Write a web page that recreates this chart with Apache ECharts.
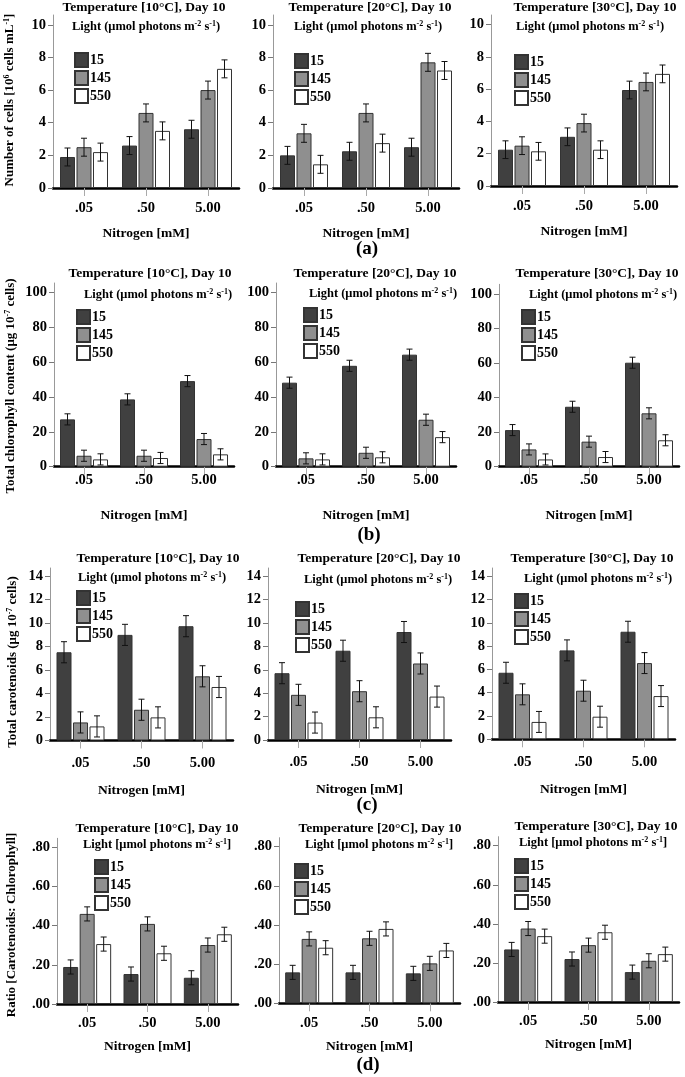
<!DOCTYPE html>
<html><head><meta charset="utf-8">
<script src="https://cdn.jsdelivr.net/npm/echarts@6/dist/echarts.min.js"></script>
<style>html,body{margin:0;padding:0;background:#fff}#c{width:685px;height:1077px}</style>
</head><body><div id="c"></div>
<script>
// ---------- DATA ----------
const nitrogen = ['.05', '.50', '5.00'];
const lightLevels = ['15', '145', '550'];
const temperatures = ['10', '20', '30'];

// each panel: [light 15, light 145, light 550] x nitrogen [.05, .50, 5.00]
const cells10 = [[1.9, 2.6, 3.6], [2.5, 4.6, 6.0], [2.2, 3.5, 7.3]];
const cells20 = [[2.0, 2.25, 2.5], [3.35, 4.6, 7.7], [1.45, 2.75, 7.2]];
const cells30 = [[2.25, 3.05, 5.95], [2.5, 3.9, 6.45], [2.15, 2.25, 6.95]];
const cellsErr = [[0.55, 0.55, 0.55], [0.55, 0.55, 0.55], [0.55, 0.55, 0.55]];

const chl10 = [[27.2, 38.7, 49.2], [6.3, 6.3, 15.9], [4.2, 5.0, 7.1]];
const chl20 = [[48.3, 58.0, 64.4], [4.8, 8.0, 27.0], [4.2, 5.4, 17.0]];
const chl30 = [[21.2, 34.7, 60.2], [10.0, 14.5, 30.9], [4.2, 5.6, 15.3]];
const chlErr = [[3.2, 3.2, 3.2], [3.2, 3.2, 3.2], [3.2, 3.2, 3.2]];

const car10 = [[7.52, 9.0, 9.74], [1.54, 2.62, 5.47], [1.2, 1.97, 4.56]];
const car20 = [[5.71, 7.63, 9.23], [3.86, 4.17, 6.54], [1.49, 1.94, 3.71]];
const car30 = [[5.71, 7.63, 9.23], [3.86, 4.17, 6.54], [1.49, 1.94, 3.71]];
const carErr = [[0.9, 0.9, 0.9], [0.9, 0.9, 0.9], [0.9, 0.9, 0.9]];

const ratio10 = [[0.189, 0.153, 0.134], [0.46, 0.409, 0.301], [0.306, 0.259, 0.356]];
const ratio20 = [[0.158, 0.158, 0.153], [0.329, 0.332, 0.204], [0.284, 0.38, 0.27]];
const ratio30 = [[0.269, 0.22, 0.153], [0.376, 0.291, 0.211], [0.337, 0.357, 0.245]];
const ratioErr = [[0.036, 0.036, 0.036], [0.036, 0.036, 0.036], [0.036, 0.036, 0.036]];

const cellTicks = [0, 2, 4, 6, 8, 10];
const chlTicks = [0, 20, 40, 60, 80, 100];
const carTicks = [0, 2, 4, 6, 8, 10, 12, 14];
const ratioTicks = [0, 0.2, 0.4, 0.6, 0.8];

// ---------- STYLE / LAYOUT ----------
const F = '"Liberation Serif","Times New Roman",serif';
const colors = ['#404040', '#8f8f8f', '#ffffff'];
const BW = 15, GAP = 1.5;

const rows = [
  { vals: [cells10, cells20, cells30], err: cellsErr, max: 10.6, ticks: cellTicks, fmt: v => String(v),
    axisX: [50, 270, 488], zero: [188, 188, 186], top: [15, 15, 15], off: 3, w: 186, lm: 13, ng: 39,
    legend: [[74, 52], [294, 53], [514, 54]], br: ['(', ')'],
    titles: [[144, 8, 146, 27], [370, 8, 368, 27], [595, 8, 590, 27]],
    yName: { t: '{n|Number of cells [10}{s|6}{n| cells mL}{s|-1}{n|]}', x: 10, y: 100 },
    letter: ['(a)', 367, 249] },
  { vals: [chl10, chl20, chl30], err: chlErr, max: 105.6, ticks: chlTicks, fmt: v => String(v),
    axisX: [52, 274, 497], zero: [466.7, 466.7, 466.7], top: [283, 283, 284.3], off: 2, w: 180, lm: 6, ng: 42,
    legend: [[76, 309], [303, 307], [521, 309]], br: ['(', ')'],
    titles: [[150, 274, 158, 295], [375, 274, 383, 294], [597, 274, 603, 295]],
    yName: { t: '{n|Total chlorophyll content (μg 10}{s|-7}{n| cells)}', x: 11, y: 386 },
    letter: ['(b)', 369, 535] },
  { vals: [car10, car20, car30], err: carErr, max: 14.7, ticks: carTicks, fmt: v => String(v),
    axisX: [48, 266, 490], zero: [740.5, 740, 739.3], top: [568, 568, 568], off: 2, w: 183, lm: 15, ng: 43,
    legend: [[76, 590], [295, 601], [514, 593]], br: ['(', ')'],
    titles: [[158, 559, 152, 578], [379, 559, 378, 580], [592, 559, 598, 579]],
    yName: { t: '{n|Total carotenoids (μg 10}{s|-7}{n| cells)}', x: 13, y: 662 },
    letter: ['(c)', 367, 805] },
  { vals: [ratio10, ratio20, ratio30], err: ratioErr, max: 0.846, ticks: ratioTicks, fmt: v => v.toFixed(2).replace(/^0/, ''),
    axisX: [54, 276, 495], zero: [1004, 1003.3, 1002], top: [838.3, 837.7, 836.7], off: 3, w: 181, lm: 12, ng: 36,
    legend: [[94, 859], [294, 863], [514, 858]], br: ['[', ']'],
    titles: [[157, 829, 157, 845], [380, 829, 379, 845], [596, 827, 593, 843]],
    yName: { t: '{n|Ratio [Carotenoids: Chlorophyll]}', x: 12, y: 925 },
    letter: ['(d)', 368, 1065] }
];

const richT = (size) => ({
  n: { fontFamily: F, fontWeight: 'bold', fontSize: size, lineHeight: 15, fill: '#000', color: '#000' },
  s: { fontFamily: F, fontWeight: 'bold', fontSize: 8, lineHeight: 8, verticalAlign: 'top', fill: '#000', color: '#000' }
});

const grid = [], xAxis = [], yAxis = [], series = [], legend = [], graphic = [];
let p = 0;
rows.forEach((r, ri) => {
  for (let c = 0; c < 3; c++) {
    grid.push({ left: r.axisX[c] + r.off, top: r.top[c], width: r.w, height: r.zero[c] - r.top[c], containLabel: false });
    xAxis.push({
      type: 'category', gridIndex: p, data: nitrogen,
      axisLine: { lineStyle: { color: '#000', width: 2.5 } },
      axisTick: { show: true, alignWithLabel: true, length: 8, lineStyle: { color: '#aaa', width: 1 } },
      axisLabel: { color: '#000', fontFamily: F, fontWeight: 'bold', fontSize: 14.5, margin: r.lm },
      name: 'Nitrogen [mM]', nameLocation: 'middle', nameGap: r.ng,
      nameTextStyle: { color: '#000', fontFamily: F, fontWeight: 'bold', fontSize: 13.5 }
    });
    yAxis.push({
      type: 'value', gridIndex: p, min: 0, max: r.max,
      axisLine: { show: true, lineStyle: { color: '#999', width: 1 } },
      axisTick: { show: true, length: 5, lineStyle: { color: '#777' }, customValues: r.ticks },
      axisLabel: { color: '#000', fontFamily: F, fontWeight: 'bold', fontSize: 14.5, margin: 7, formatter: r.fmt, customValues: r.ticks },
      splitLine: { show: false }
    });
    for (let k = 0; k < 3; k++) {
      const vals = r.vals[c][k];
      series.push({
        type: 'bar', name: lightLevels[k], xAxisIndex: p, yAxisIndex: p, data: vals,
        barWidth: BW, barGap: '10%',
        itemStyle: { color: colors[k], borderColor: '#333', borderWidth: 1 },
        emphasis: { disabled: true }, z: 2
      });
      const off = (k - 1) * (BW + GAP);
      const err = r.err[k];
      series.push({
        type: 'custom', xAxisIndex: p, yAxisIndex: p, z: 5,
        data: vals.map((v, i) => [i, v - err[i], v + err[i]]),
        encode: { x: 0, y: [1, 2] },
        renderItem: (params, api) => {
          const lo = api.coord([api.value(0), api.value(1)]);
          const hi = api.coord([api.value(0), api.value(2)]);
          const x = lo[0] + off;
          const st = { stroke: '#111', lineWidth: 1 };
          return { type: 'group', children: [
            { type: 'line', shape: { x1: x, y1: lo[1], x2: x, y2: hi[1] }, style: st },
            { type: 'line', shape: { x1: x - 3, y1: lo[1], x2: x + 3, y2: lo[1] }, style: st },
            { type: 'line', shape: { x1: x - 3, y1: hi[1], x2: x + 3, y2: hi[1] }, style: st }
          ] };
        }
      });
    }
    legend.push({
      data: lightLevels.map(n => ({ name: n, icon: 'rect' })), orient: 'vertical', left: r.legend[c][0], top: r.legend[c][1],
      itemWidth: 13, itemHeight: 14, itemGap: 2, padding: 0, selectedMode: false,
      textStyle: { color: '#000', fontFamily: F, fontWeight: 'bold', fontSize: 14, padding: [0, 0, 0, -3] }
    });
    const t = r.titles[c];
    graphic.push({ type: 'text', x: t[0], y: t[1], silent: true,
      style: { text: 'Temperature [' + temperatures[c] + '°C], Day 10', font: 'bold 13.5px ' + F, fill: '#000',
        align: 'center', verticalAlign: 'middle', textAlign: 'center', textVerticalAlign: 'middle' } });
    graphic.push({ type: 'text', x: t[2], y: t[3], silent: true,
      style: { text: '{n|Light ' + r.br[0] + 'μmol photons m}{s|-2}{n| s}{s|-1}{n|' + r.br[1] + '}',
        rich: richT(12.5), fill: '#000', align: 'center', verticalAlign: 'middle', textAlign: 'center', textVerticalAlign: 'middle' } });
    p++;
  }
  graphic.push({ type: 'text', x: r.yName.x, y: r.yName.y, rotation: Math.PI / 2, silent: true,
    style: { text: r.yName.t, rich: richT(13), fill: '#000', align: 'center', verticalAlign: 'middle', textAlign: 'center', textVerticalAlign: 'middle' } });
  graphic.push({ type: 'text', x: r.letter[1], y: r.letter[2], silent: true,
    style: { text: r.letter[0], font: 'bold 19px ' + F, fill: '#000', align: 'center', verticalAlign: 'middle', textAlign: 'center', textVerticalAlign: 'middle' } });
});

const chart = echarts.init(document.getElementById('c'), null, { renderer: 'canvas' });
chart.setOption({ animation: false, backgroundColor: '#fff', grid, xAxis, yAxis, series, legend, graphic });
</script></body></html>
